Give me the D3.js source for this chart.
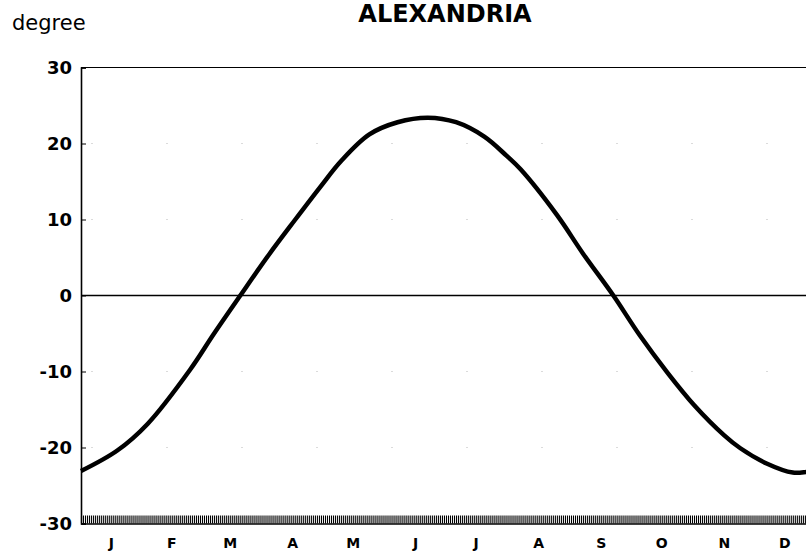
<!DOCTYPE html>
<html>
<head>
<meta charset="utf-8">
<script src="https://cdn.jsdelivr.net/npm/d3@7"></script>
<style>
  html, body { margin: 0; padding: 0; background: #fff; }
  svg { display: block; }
</style>
</head>
<body>
<div id="chart"></div>
<script>
// --- Data ---
// day index from 1 January (0) and declination in degrees
const days = [0, 18, 33, 54, 66, 79, 93, 106, 119, 129, 143, 157, 172, 186, 200, 211, 218, 236, 249, 264, 277, 291, 304, 319, 327, 340, 353, 360, 365];
const declination = [-23.1, -20.4, -16.9, -9.8, -5.0, 0.0, 5.3, 9.9, 14.4, 17.7, 21.2, 22.8, 23.4, 22.8, 20.9, 18.4, 16.6, 10.6, 5.5, 0.0, -5.2, -10.2, -14.4, -18.4, -20.1, -22.1, -23.3, -23.2, -23.0];

const monthLabels = ['J', 'F', 'M', 'A', 'M', 'J', 'J', 'A', 'S', 'O', 'N', 'D'];
const monthMidDays = [15, 45, 74, 105, 135, 166, 196, 227, 258, 288, 319, 349];

const yTicks = [-30, -20, -10, 0, 10, 20, 30];
const yTickLabels = ['-30', '-20', '-10', '0', '10', '20', '30'];

const TITLE = 'ALEXANDRIA';
const Y_UNIT = 'degree';

// --- Layout ---
const width = 806, height = 551;
const margin = { left: 81, top: 67.5, bottom: 551 - 523.5 };
const plotRight = 817; // last day runs past the cropped edge

const svg = d3.select('#chart').append('svg')
    .attr('width', width)
    .attr('height', height);

const x = d3.scaleLinear().domain([0, 365]).range([margin.left, plotRight]);
const y = d3.scaleLinear().domain([-30, 30]).range([height - margin.bottom, margin.top]);

const bold = 'DejaVu Sans, sans-serif';

// faint scan-like grid specks
svg.append('g')
    .selectAll('line')
    .data([-20, -10, 10, 20])
    .join('line')
    .attr('x1', margin.left + 10).attr('x2', width)
    .attr('y1', d => y(d)).attr('y2', d => y(d))
    .attr('stroke', '#ccc')
    .attr('stroke-width', 0.7)
    .attr('stroke-dasharray', '2 73');

// zero line
svg.append('line')
    .attr('x1', margin.left).attr('x2', width)
    .attr('y1', y(0)).attr('y2', y(0))
    .attr('stroke', '#000').attr('stroke-width', 1.3);

// top frame
svg.append('line')
    .attr('x1', margin.left).attr('x2', width)
    .attr('y1', y(30)).attr('y2', y(30))
    .attr('stroke', '#000').attr('stroke-width', 1.2);

// y axis
const yAxis = svg.append('g')
    .attr('transform', `translate(${margin.left},0)`)
    .call(d3.axisLeft(y)
        .tickValues(yTicks)
        .tickSize(-5)
        .tickPadding(9)
        .tickFormat((d, i) => yTickLabels[i]));
yAxis.select('.domain').attr('stroke-width', 1.6);
yAxis.selectAll('text')
    .attr('font-family', bold)
    .attr('font-weight', 'bold')
    .attr('font-size', 18)
    .attr('fill', '#000');

// x axis: one tick per day
const xAxis = svg.append('g')
    .attr('transform', `translate(0,${y(-30)})`)
    .call(d3.axisBottom(x)
        .tickValues(d3.range(0, 366))
        .tickSize(-8)
        .tickSizeOuter(0)
        .tickFormat(''));
xAxis.select('.domain').attr('stroke-width', 1.6);
xAxis.selectAll('.tick line').attr('stroke-width', 1.1);

// month labels
svg.append('g')
    .selectAll('text')
    .data(monthLabels)
    .join('text')
    .attr('x', (d, i) => x(monthMidDays[i]))
    .attr('y', 548)
    .attr('text-anchor', 'middle')
    .attr('font-family', bold)
    .attr('font-weight', 'bold')
    .attr('font-size', 14)
    .text(d => d);

// declination curve
const line = d3.line()
    .x((d, i) => x(days[i]))
    .y(d => y(d))
    .curve(d3.curveCatmullRom.alpha(0.5));

svg.append('path')
    .datum(declination)
    .attr('d', line)
    .attr('fill', 'none')
    .attr('stroke', '#000')
    .attr('stroke-width', 4.5)
    .attr('stroke-linejoin', 'round');

// titles
svg.append('text')
    .attr('x', 445)
    .attr('y', 22)
    .attr('text-anchor', 'middle')
    .attr('font-family', bold)
    .attr('font-weight', 'bold')
    .attr('font-size', 24)
    .text(TITLE);

svg.append('text')
    .attr('x', 12)
    .attr('y', 30)
    .attr('font-family', bold)
    .attr('font-size', 21)
    .text(Y_UNIT);
</script>
</body>
</html>
